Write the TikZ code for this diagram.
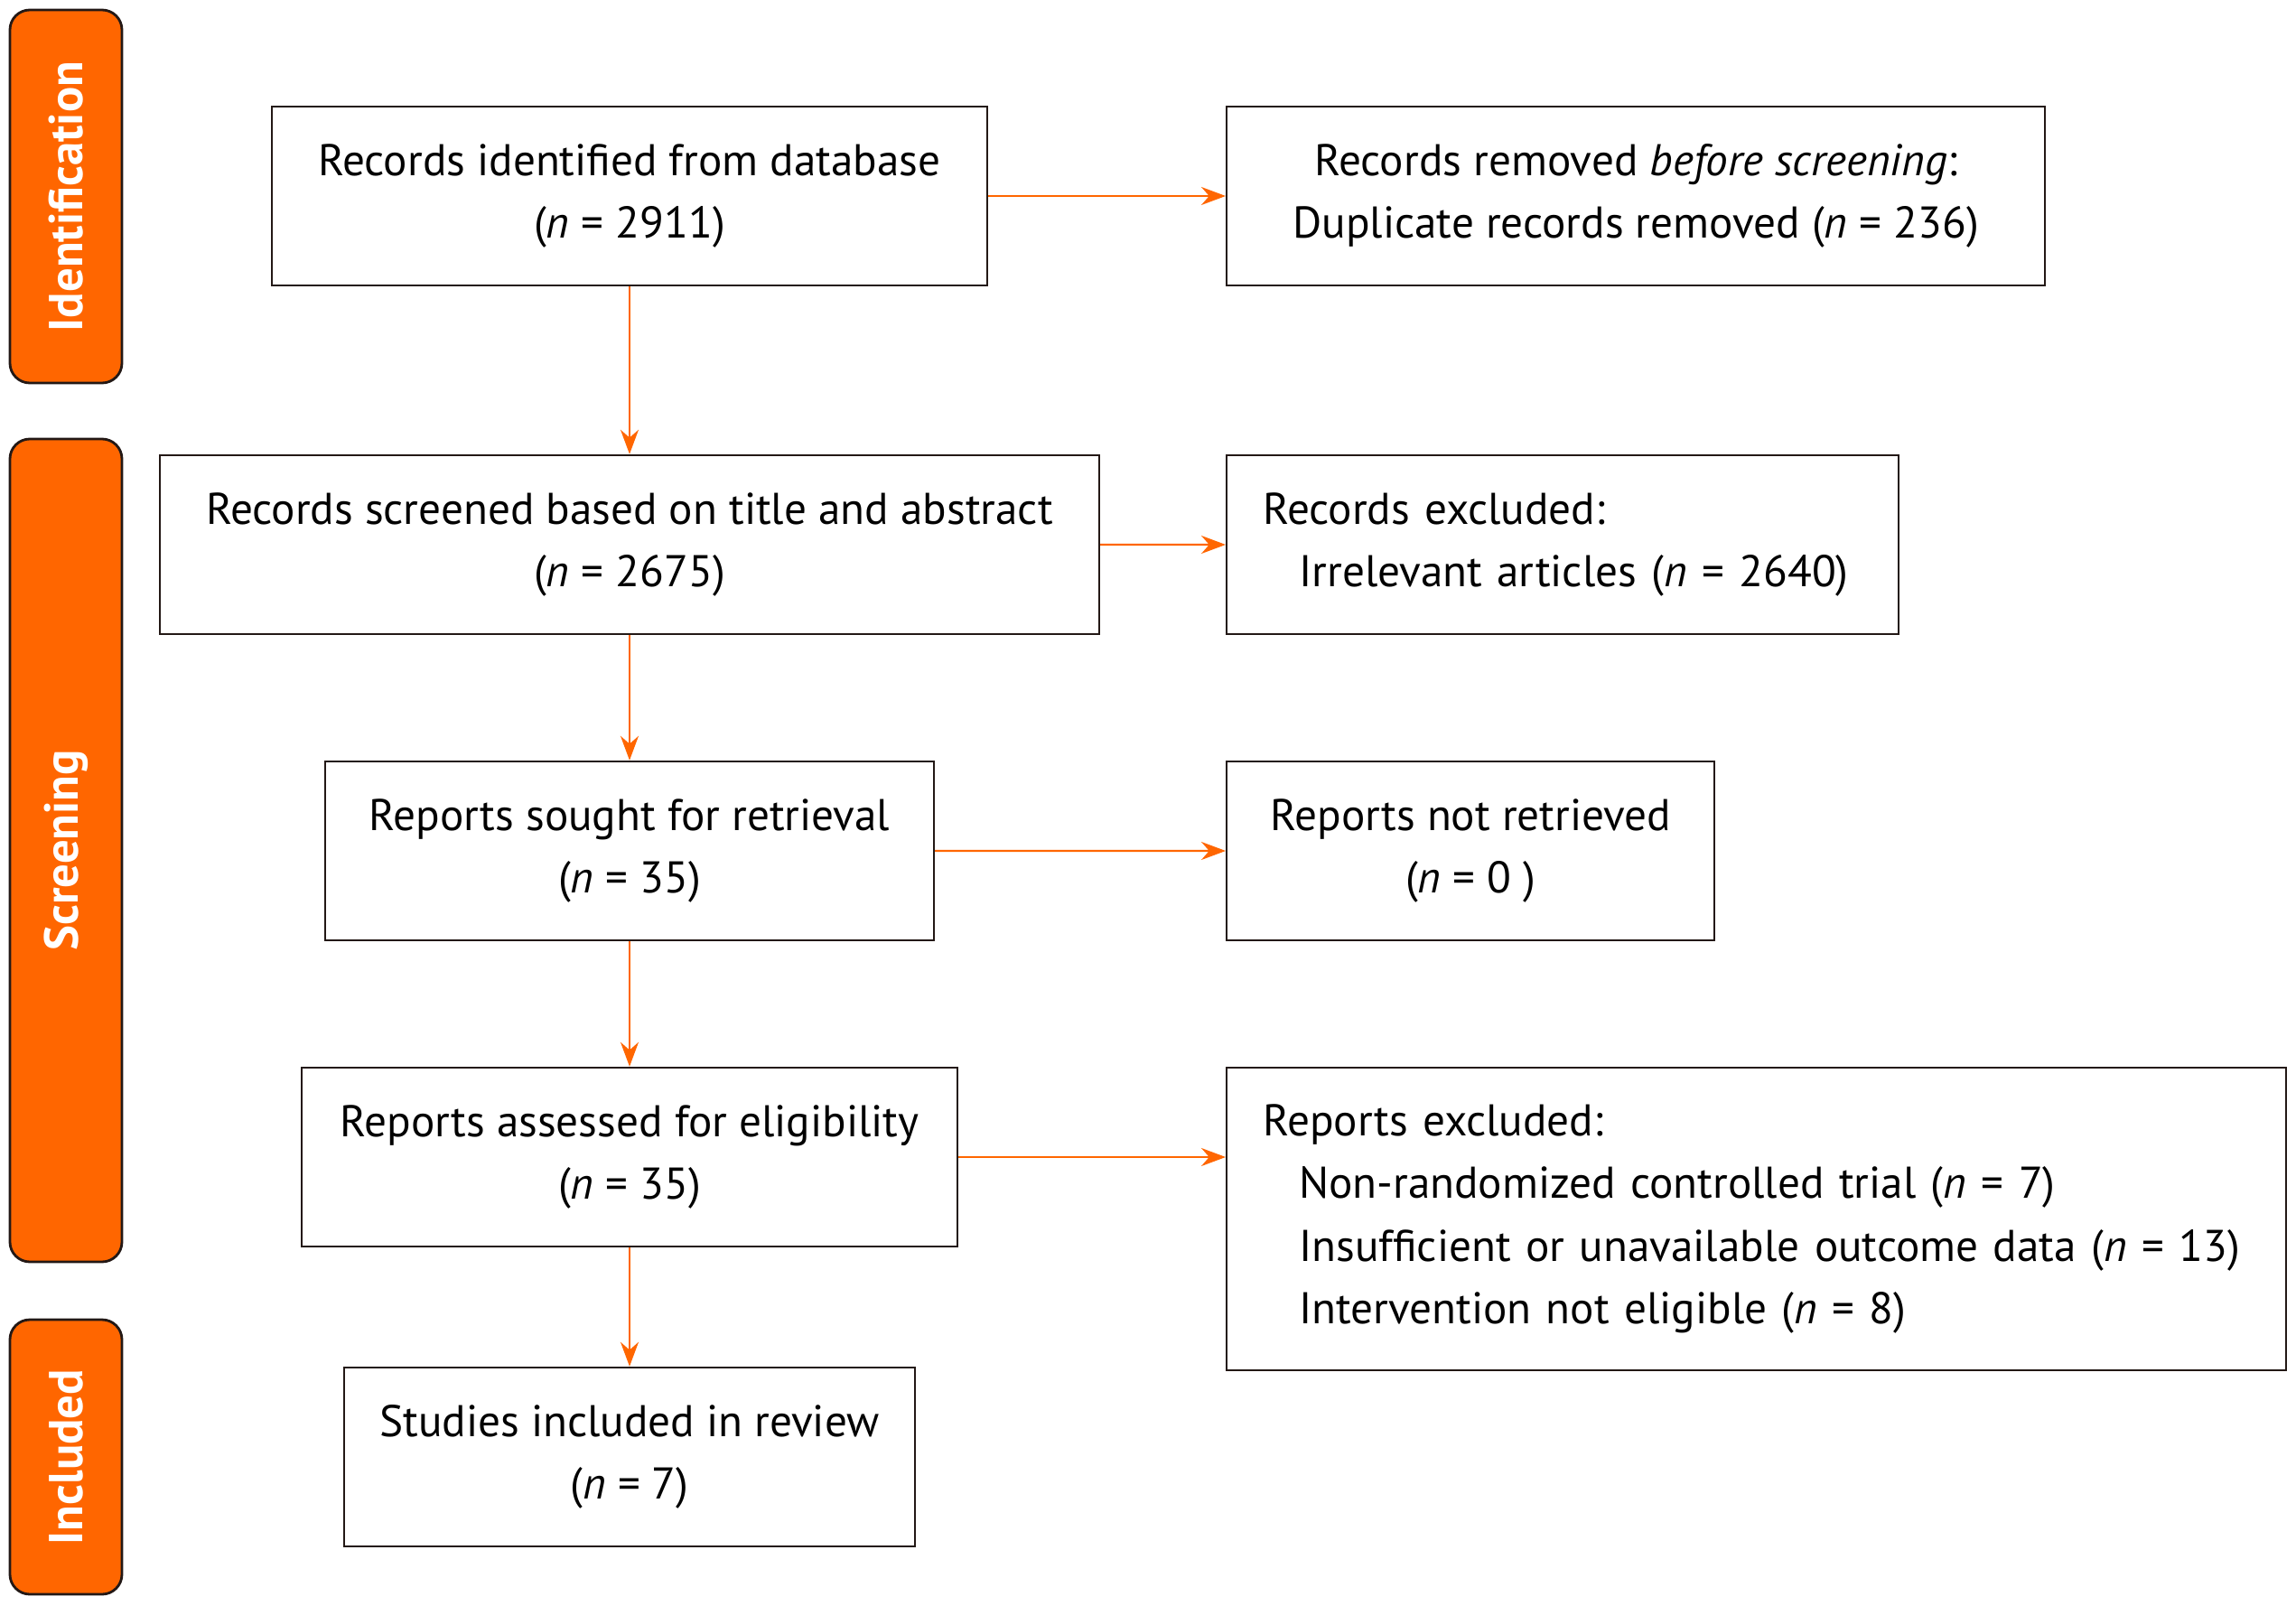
\documentclass[tikz,border=0pt]{standalone}
\usepackage{fontspec}
\setmainfont{PT Sans}
\usepackage{tikz}
\usetikzlibrary{arrows.meta,calc}
\definecolor{prismaorange}{HTML}{FF6600}
\definecolor{boxline}{HTML}{231815}
\tikzstyle{stage} = [rectangle, rounded corners=0.22cm, draw=boxline, line width=0.8pt,
    fill=prismaorange, text=white, rotate=90, minimum height=1.24cm, inner sep=0pt,
    font=\fontsize{15}{18}\selectfont\bfseries]
\tikzstyle{block} = [rectangle, draw=boxline, line width=0.7pt, align=center,
    minimum height=1.98cm, inner sep=0pt, font=\fontsize{14}{19.8}\selectfont]
\tikzstyle{sideblock} = [block, anchor=west]
\tikzstyle{line} = [draw=prismaorange, line width=0.6pt, -{Stealth[length=0.27cm,width=0.2cm]}]
\newcommand{\nn}{\textit{n}}

\begin{document}
\begin{tikzpicture}
    \useasboundingbox (0,0) rectangle (25.42,-17.78);
    % Stage labels
    \node[stage, minimum width=4.13cm] (ident) at (0.73,-2.175) {Identification};
    \node[stage, minimum width=9.11cm] (screen) at (0.73,-9.415) {Screening};
    \node[stage, minimum width=3.04cm] (incl) at (0.73,-16.13) {Included};

    % Main column
    \node[block, minimum width=7.92cm] (identified) at (6.97,-2.17) {Records identified from database\\(\nn{} = 2911)};
    \node[block, minimum width=10.40cm, below of=identified, node distance=3.86cm] (screened) {Records screened based on title and abstract\\(\nn{} = 2675)};
    \node[block, minimum width=6.74cm, below of=screened, node distance=3.39cm] (sought) {Reports sought for retrieval\\(\nn{} = 35)};
    \node[block, minimum width=7.26cm, below of=sought, node distance=3.39cm] (assessed) {Reports assessed for eligibility\\(\nn{} = 35)};
    \node[block, minimum width=6.32cm, below of=assessed, node distance=3.32cm] (included) {Studies included in review\\(\nn{} = 7)};

    % Side column
    \node[sideblock, minimum width=9.06cm] (removed) at (13.57,-2.17) {Records removed \textit{before screening}:\\Duplicate records removed (\nn{} = 236)};
    \node[sideblock, text width=6.64cm, inner xsep=0.4cm, align=left] (excluded) at (13.57,-6.03) {Records excluded:\\\hspace*{0.4cm}Irrelevant articles (\nn{} = 2640)};
    \node[sideblock, minimum width=5.40cm] (notretrieved) at (13.57,-9.42) {Reports not retrieved\\(\nn{} = 0 )};
    \node[sideblock, text width=10.93cm, inner xsep=0.4cm, align=left, minimum height=3.35cm] (repexcluded) at (13.57,-13.495) {Reports excluded:\\
        \hspace*{0.4cm}Non-randomized controlled trial (\nn{} = 7)\\
        \hspace*{0.4cm}Insufficient or unavailable outcome data (\nn{} = 13)\\
        \hspace*{0.4cm}Intervention not eligible (\nn{} = 8)};

    % Draw edges
    \path [line] (identified) -- (screened);
    \path [line] (screened) -- (sought);
    \path [line] (sought) -- (assessed);
    \path [line] (assessed) -- (included);

    \path [line] (identified) -- (removed);
    \path [line] (screened) -- (excluded);
    \path [line] (sought) -- (notretrieved);
    \path [line] (assessed.east) -- (assessed.east -| repexcluded.west);
\end{tikzpicture}
\end{document}
